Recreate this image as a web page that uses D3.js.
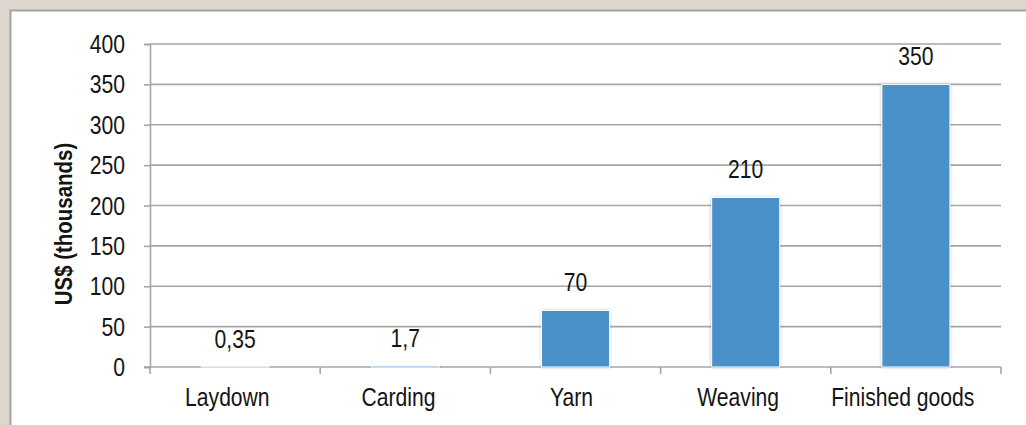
<!DOCTYPE html>
<html>
<head>
<meta charset="utf-8">
<script src="https://cdn.jsdelivr.net/npm/d3@7/dist/d3.min.js"></script>
<style>
  html, body { margin: 0; padding: 0; background: #dcd6ce; }
  svg { display: block; }
  text { font-family: "Liberation Sans", Arial, sans-serif; fill: #141414; }
</style>
</head>
<body>
<svg id="chart" width="1026" height="425"></svg>
<script>
// Value added along the textile chain, US$ thousands
const categories = ["Laydown", "Carding", "Yarn", "Weaving", "Finished goods"];
const values = [0.35, 1.7, 70, 210, 350];
const valueLabels = ["0,35", "1,7", "70", "210", "350"];
const yTicks = [0, 50, 100, 150, 200, 250, 300, 350, 400];

const svg = d3.select("#chart");
const W = 1026, H = 425;
const plot = { left: 150, right: 1001, top: 44, bottom: 367 };
const FS = 25, SX = 0.845;   // narrow face: regular sans squeezed horizontally
const grid = "#a4a7a7";

// white panel with grey frame
svg.append("rect")
  .attr("x", 10.5).attr("y", 10.5)
  .attr("width", W).attr("height", H)
  .attr("fill", "#fff").attr("stroke", "#a3a3a3").attr("stroke-width", 2);

const defs = svg.append("defs");
const shadow = defs.append("filter").attr("id", "barShadow")
  .attr("x", "-20%").attr("y", "-20%").attr("width", "140%").attr("height", "140%");
shadow.append("feDropShadow")
  .attr("dx", 0).attr("dy", 0).attr("stdDeviation", 1.6)
  .attr("flood-color", "#000").attr("flood-opacity", 0.28);

const x = d3.scaleBand().domain(categories)
  .range([plot.left, plot.right]).paddingInner(0.6).paddingOuter(0.3);
const xBand = d3.scaleBand().domain(categories).range([plot.left, plot.right]);
const y = d3.scaleLinear().domain([0, 400]).range([plot.bottom, plot.top]);

// narrow text helper
function narrow(g, tx, ty, anchor, str, size, sx, weight) {
  return g.append("text")
    .attr("transform", `translate(${tx},${ty}) scale(${sx},1)`)
    .attr("text-anchor", anchor)
    .attr("font-size", size)
    .attr("font-weight", weight || "normal")
    .text(str);
}

// horizontal gridlines
svg.append("g").selectAll("line").data(yTicks.filter(t => t > 0)).join("line")
  .attr("x1", plot.left).attr("x2", plot.right)
  .attr("y1", d => y(d)).attr("y2", d => y(d))
  .attr("stroke", grid).attr("stroke-width", 1.6);

// y axis
const yAxis = d3.axisLeft(y).tickValues(yTicks).tickSize(6).tickFormat("");
const gy = svg.append("g").attr("transform", `translate(${plot.left},0)`).call(yAxis);
gy.select(".domain").attr("stroke", grid).attr("stroke-width", 1.6);
gy.selectAll(".tick line").attr("stroke", grid).attr("stroke-width", 1.6);
const gyl = svg.append("g");
yTicks.forEach(t => narrow(gyl, 125, y(t) + 9, "end", String(t), FS, SX));

// x axis with ticks on category boundaries
svg.append("line")
  .attr("x1", plot.left - 6).attr("x2", plot.right)
  .attr("y1", y(0)).attr("y2", y(0))
  .attr("stroke", grid).attr("stroke-width", 1.6);
const bounds = categories.map(c => xBand(c)).concat([plot.right]);
svg.append("g").selectAll("line").data(bounds).join("line")
  .attr("x1", d => d).attr("x2", d => d)
  .attr("y1", y(0)).attr("y2", y(0) + 7)
  .attr("stroke", grid).attr("stroke-width", 1.6);
const gxl = svg.append("g");
categories.forEach(c => {
  const cx = xBand(c) + xBand.bandwidth() / 2;
  const t = narrow(gxl, cx, 406, "start", c, FS, SX);
  const len = t.node().getComputedTextLength();
  t.attr("transform", `translate(${cx - len / 2},406) scale(${SX},1)`);
});

// bars
const data = categories.map((c, i) => ({ c, v: values[i], label: valueLabels[i] }));
svg.append("g").selectAll("rect").data(data).join("rect")
  .attr("x", d => x(d.c))
  .attr("width", x.bandwidth())
  .attr("y", d => y(d.v))
  .attr("height", d => y(0) - y(d.v))
  .attr("fill", "#4b91c9")
  .attr("stroke", "#fff").attr("stroke-width", 1)
  .attr("filter", "url(#barShadow)");

// value labels
const gvl = svg.append("g");
data.forEach(d => narrow(gvl, x(d.c) + x.bandwidth() / 2, y(d.v) - 19, "middle", d.label, FS, SX));

// axis title
svg.append("text")
  .attr("transform", `translate(72,224) rotate(-90) scale(0.89,1)`)
  .attr("text-anchor", "middle")
  .attr("font-size", 23)
  .attr("font-weight", "bold")
  .text("US$ (thousands)");
</script>
</body>
</html>
